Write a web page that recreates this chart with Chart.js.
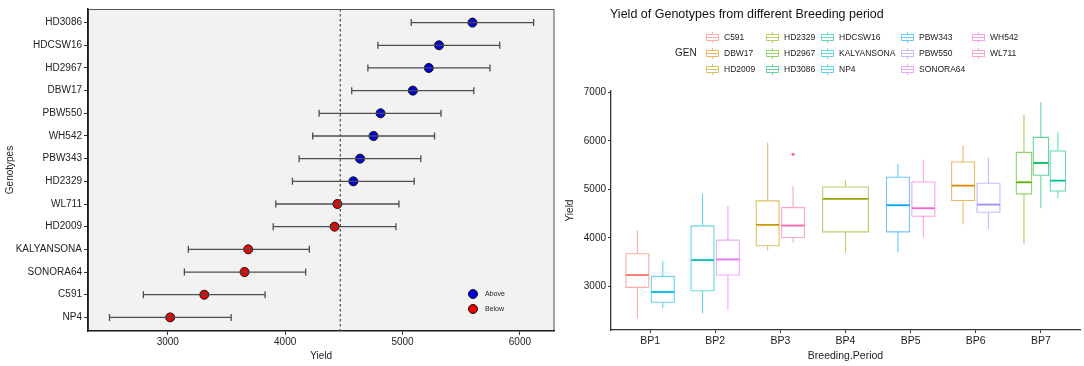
<!DOCTYPE html>
<html>
<head>
<meta charset="utf-8">
<script src="https://cdn.jsdelivr.net/npm/chart.js@4.4.1/dist/chart.umd.min.js"></script>
<style>
  body { margin: 0; background: #fff; font-family: "Liberation Sans", Arial, sans-serif; }
  #wrap { position: relative; width: 1084px; height: 366px; overflow: hidden; }
  #left { position: absolute; left: 0; top: 0; width: 560px; height: 366px; }
  #right { position: absolute; left: 560px; top: 0; width: 524px; height: 366px; }
  .lg { position: absolute; font-size: 7px; color: #222; }
  .lg .dot { position: absolute; width: 8px; height: 8px; border-radius: 50%; border: 1px solid #111; }
  #rtitle { position: absolute; left: 610px; top: 7px; font-size: 12.5px; color: #111; white-space: nowrap; }
  #gen { position: absolute; left: 675px; top: 47px; font-size: 10px; color: #222; }
  .col { position: absolute; top: 29px; }
  .item { height: 16px; display: flex; align-items: center; font-size: 8.5px; color: #222; white-space: nowrap; }
  .ic { position: relative; width: 13px; height: 11px; margin-right: 5px; opacity: 0.6; }
  .ic .w { position: absolute; left: 6px; top: 0; width: 1px; height: 11px; }
  .ic .b { position: absolute; left: 0; top: 2px; width: 11px; height: 5px; border: 1px solid; background: #fff; }
  .ic .m { position: absolute; left: 1px; top: 5px; width: 11px; height: 1px; }
</style>
</head>
<body>
<div id="wrap">
  <div id="left"><canvas id="dotChart"></canvas></div>
  <div id="right"><canvas id="boxChart"></canvas></div>
  <div id="rtitle">Yield of Genotypes from different Breeding period</div>
  <div id="gen">GEN</div>
</div>
<script>
// ---- left panel: genotype means with error bars ----
const genotypes = ['HD3086', 'HDCSW16', 'HD2967', 'DBW17', 'PBW550', 'WH542', 'PBW343', 'HD2329',
                   'WL711', 'HD2009', 'KALYANSONA', 'SONORA64', 'C591', 'NP4'];
const meanYield  = [5596, 5311, 5224, 5088, 4813, 4753, 4638, 4581, 4445, 4421, 3685, 3654, 3311, 3020];
const lowerYield = [5074, 4790, 4705, 4567, 4289, 4234, 4119, 4062, 3920, 3898, 3175, 3141, 2792, 2503];
const upperYield = [6117, 5828, 5745, 5607, 5328, 5273, 5156, 5100, 4969, 4944, 4206, 4175, 3829, 3540];
const aboveBelow = ['Above', 'Above', 'Above', 'Above', 'Above', 'Above', 'Above', 'Above',
                    'Below', 'Below', 'Below', 'Below', 'Below', 'Below'];
const grandMean = 4470;
const leftTicks = [3000, 4000, 5000, 6000];

// ---- right panel: box plots per breeding period ----
const periods = ['BP1', 'BP2', 'BP3', 'BP4', 'BP5', 'BP6', 'BP7'];
const boxGen = ['C591', 'DBW17', 'HD2009', 'HD2329', 'HD2967', 'HD3086', 'HDCSW16',
                'KALYANSONA', 'NP4', 'PBW343', 'PBW550', 'SONORA64', 'WH542', 'WL711'];
const boxColors = ['#F8766D', '#E38900', '#C49A00', '#99A800', '#53B400', '#00BC56', '#00C094',
                   '#00BFC4', '#00B6EB', '#06A4FF', '#A58AFF', '#DF70F8', '#FB61D7', '#FF66A8'];
const boxPeriod = [1, 6, 3, 4, 7, 7, 7, 2, 1, 5, 6, 2, 5, 3];
const boxLow  = [2335, 4276, 3741, 3693, 3871, 4612, 4818, 2438, 2547, 3706, 4180, 2520, 4008, 3898];
const boxQ1   = [2979, 4770, 3837, 4125, 4907, 5291, 4968, 2911, 2671, 4125, 4530, 3233, 4447, 4008];
const boxMed  = [3233, 5078, 4269, 4804, 5147, 5545, 5181, 3542, 2883, 4674, 4687, 3556, 4612, 4255];
const boxQ3   = [3672, 5565, 4763, 5051, 5764, 6073, 5791, 4248, 3206, 5250, 5126, 3953, 5154, 4625];
const boxHigh = [4145, 5908, 5963, 5195, 6539, 6800, 6176, 4907, 3528, 5517, 5654, 4660, 5613, 5071];
const outlierGen = ['WL711'];
const outlierYield = [5723];
const rightTicks = [3000, 4000, 5000, 6000, 7000];

const FONT = '"Liberation Sans", Arial, sans-serif';

// grey panel + frame behind the left plot
const panelBg = {
    id: 'panelBg',
    beforeDraw(chart) {
        const a = chart.chartArea, ctx = chart.ctx;
        ctx.save();
        ctx.fillStyle = '#f2f2f2';
        ctx.fillRect(a.left, a.top, a.right - a.left, a.bottom - a.top);
        ctx.strokeStyle = '#555';
        ctx.lineWidth = 1;
        ctx.strokeRect(a.left + 0.5, a.top + 0.5, a.right - a.left - 1, a.bottom - a.top - 1);
        ctx.restore();
    }
};

const errData = [];
genotypes.forEach((g, i) => {
    errData.push({x: lowerYield[i], y: i}, {x: upperYield[i], y: i});
});
const pointsFor = grp => genotypes
    .map((g, i) => ({x: meanYield[i], y: i, g: aboveBelow[i]}))
    .filter(p => p.g === grp);

new Chart(document.getElementById('dotChart'), {
    type: 'scatter',
    data: {
        datasets: [
            {
                label: 'mean',
                data: [{x: grandMean, y: -0.6}, {x: grandMean, y: 13.6}],
                showLine: true,
                borderColor: '#555',
                borderWidth: 1.3,
                borderDash: [2.5, 2.5],
                pointRadius: 0
            },
            {
                label: 'ci',
                data: errData,
                showLine: true,
                borderColor: '#4d4d4d',
                borderWidth: 1.3,
                pointStyle: 'line',
                pointRotation: 90,
                pointRadius: 3.5,
                pointBorderColor: '#4d4d4d',
                pointBorderWidth: 1.3,
                segment: {
                    borderColor: c => (c.p0DataIndex % 2 ? 'rgba(0,0,0,0)' : '#4d4d4d')
                }
            },
            {
                label: 'Above',
                data: pointsFor('Above'),
                backgroundColor: '#0000dd',
                borderColor: '#111',
                borderWidth: 1,
                pointRadius: 4.5
            },
            {
                label: 'Below',
                data: pointsFor('Below'),
                backgroundColor: '#ee0000',
                borderColor: '#111',
                borderWidth: 1,
                pointRadius: 4.5
            }
        ]
    },
    options: {
        responsive: true,
        maintainAspectRatio: false,
        animation: false,
        layout: { padding: { top: 9, right: 4, left: 0, bottom: 0 } },
        scales: {
            x: {
                type: 'linear',
                min: 2320,
                max: 6295,
                afterBuildTicks: s => { s.ticks = leftTicks.map(v => ({value: v})); },
                afterFit: s => { s.height = 35; },
                border: { color: '#1a1a1a', width: 1.5 },
                grid: { drawOnChartArea: false, tickLength: 4, color: '#333' },
                ticks: {
                    color: '#222', padding: 1, font: { family: FONT, size: 10 },
                    callback: v => String(v)
                },
                title: { display: true, text: 'Yield', color: '#222', font: { family: FONT, size: 10 } }
            },
            y: {
                type: 'linear',
                reverse: true,
                min: -0.6,
                max: 13.6,
                afterBuildTicks: s => { s.ticks = genotypes.map((g, i) => ({value: i})); },
                afterFit: s => { s.width = 88; },
                border: { color: '#1a1a1a', width: 1.5 },
                grid: { drawOnChartArea: false, tickLength: 4, color: '#333' },
                ticks: {
                    color: '#222', padding: 2, autoSkip: false,
                    font: { family: FONT, size: 10 },
                    callback: v => genotypes[Math.round(v)]
                },
                title: { display: true, text: 'Genotypes', color: '#222', font: { family: FONT, size: 10 } }
            }
        },
        plugins: {
            legend: { display: false },
            tooltip: { enabled: false }
        }
    },
    plugins: [panelBg]
});

// small legend inside the left plot
const wrap = document.getElementById('wrap');
[['Above', '#0000dd', 294], ['Below', '#ee0000', 309]].forEach(([txt, col, cy]) => {
    const d = document.createElement('div');
    d.className = 'lg';
    d.style.left = '468px';
    d.style.top = (cy - 5) + 'px';
    d.innerHTML = '<span class="dot" style="left:0;top:0;background:' + col + '"></span>' +
        '<span style="position:absolute;left:17px;top:1px">' + txt + '</span>';
    wrap.appendChild(d);
});

// dodge boxes inside each breeding period
const dodgeTotal = 0.78;
const boxCenter = [], boxHalf = [];
boxGen.forEach((g, i) => {
    const grp = boxGen.map((_, j) => j).filter(j => boxPeriod[j] === boxPeriod[i]);
    const slot = dodgeTotal / grp.length;
    const k = grp.indexOf(i);
    boxCenter[i] = boxPeriod[i] - dodgeTotal / 2 + slot * (k + 0.5);
    boxHalf[i] = slot * 0.9 / 2;
});

const boxSets = [];
boxGen.forEach((g, i) => {
    const c = boxCenter[i], l = c - boxHalf[i], r = c + boxHalf[i];
    boxSets.push({
        label: g,
        data: [
            {x: c, y: boxLow[i]}, {x: c, y: boxQ1[i]}, {x: l, y: boxQ1[i]}, {x: l, y: boxQ3[i]},
            {x: c, y: boxQ3[i]}, {x: c, y: boxHigh[i]}, {x: c, y: boxQ3[i]}, {x: r, y: boxQ3[i]},
            {x: r, y: boxQ1[i]}, {x: c, y: boxQ1[i]}
        ],
        showLine: true,
        borderColor: boxColors[i] + '99',
        borderWidth: 1.1,
        borderJoinStyle: 'miter',
        pointRadius: 0
    });
    boxSets.push({
        label: g + ' median',
        data: [{x: l, y: boxMed[i]}, {x: r, y: boxMed[i]}],
        showLine: true,
        borderColor: boxColors[i],
        borderWidth: 1.8,
        pointRadius: 0
    });
});
boxSets.push({
    label: 'outliers',
    data: outlierGen.map((g, k) => ({x: boxCenter[boxGen.indexOf(g)], y: outlierYield[k]})),
    backgroundColor: outlierGen.map(g => boxColors[boxGen.indexOf(g)]),
    borderWidth: 0,
    pointRadius: 1.6
});

new Chart(document.getElementById('boxChart'), {
    type: 'scatter',
    data: { datasets: boxSets },
    options: {
        responsive: true,
        maintainAspectRatio: false,
        animation: false,
        layout: { padding: { top: 91, right: 3, left: 0, bottom: 0 } },
        scales: {
            x: {
                type: 'linear',
                min: 0.4,
                max: 7.6,
                afterBuildTicks: s => { s.ticks = periods.map((p, i) => ({value: i + 1})); },
                afterFit: s => { s.height = 36; },
                border: { color: '#333', width: 1.3 },
                grid: { drawOnChartArea: false, tickLength: 3, color: '#333' },
                ticks: {
                    color: '#222', padding: 2, font: { family: FONT, size: 10.5 },
                    callback: v => periods[Math.round(v) - 1]
                },
                title: { display: true, text: 'Breeding.Period', color: '#222', font: { family: FONT, size: 10.5 } }
            },
            y: {
                type: 'linear',
                min: 2100,
                max: 7030,
                afterBuildTicks: s => { s.ticks = rightTicks.map(v => ({value: v})); },
                afterFit: s => { s.width = 51; },
                border: { color: '#333', width: 1.3 },
                grid: { drawOnChartArea: false, tickLength: 3, color: '#333' },
                ticks: {
                    color: '#222', padding: 2, font: { family: FONT, size: 10 },
                    callback: v => String(v)
                },
                title: { display: true, text: 'Yield', color: '#222', font: { family: FONT, size: 10 } }
            }
        },
        plugins: {
            legend: { display: false },
            tooltip: { enabled: false }
        }
    }
});

// ggplot style legend: 3 rows, filled column by column
const colLefts = [706, 766, 821, 901, 972];
for (let c = 0; c < colLefts.length; c++) {
    const col = document.createElement('div');
    col.className = 'col';
    col.style.left = colLefts[c] + 'px';
    boxGen.slice(c * 3, c * 3 + 3).forEach((g, k) => {
        const clr = boxColors[c * 3 + k];
        const it = document.createElement('div');
        it.className = 'item';
        it.innerHTML = '<span class="ic"><span class="w" style="background:' + clr + '"></span>' +
            '<span class="b" style="border-color:' + clr + '"></span>' +
            '<span class="m" style="background:' + clr + '"></span></span><span>' + g + '</span>';
        col.appendChild(it);
    });
    wrap.appendChild(col);
}
</script>
</body>
</html>
